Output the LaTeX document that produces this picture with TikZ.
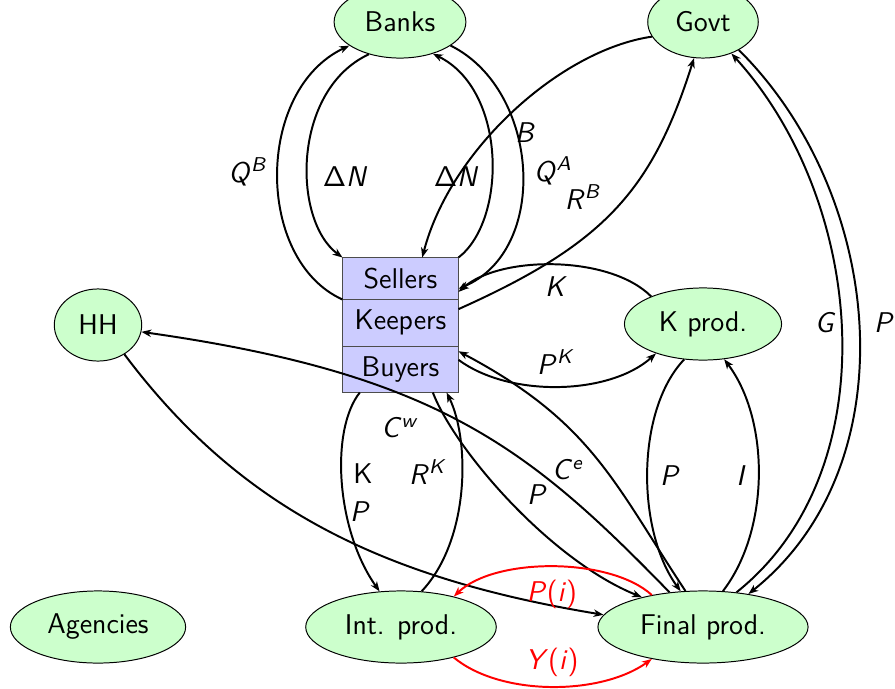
\documentclass[tikz,border=0pt]{standalone}
\usetikzlibrary{shapes.geometric,arrows.meta}
\renewcommand{\familydefault}{\sfdefault}
% variable names in slanted sans, as in the slides
\newcommand{\vv}[1]{\textsl{#1}}
\newcommand{\vs}[2]{\textsl{#1}\textsuperscript{\textsl{#2}}}
\begin{document}
\begin{tikzpicture}[
  x=0.0142857cm, y=-0.0142857cm,
  font=\fontsize{11.6pt}{14pt}\selectfont,
  agent/.style={ellipse, draw=black, line width=0.4pt, fill=green!20,
    inner xsep=4.6pt, inner ysep=0pt, minimum height=1.03cm},
  part/.style={rectangle, draw=black!70, line width=0.4pt, fill=blue!20,
    inner sep=0pt, minimum width=1.643cm},
  flow/.style={line width=0.8pt, -{Stealth[length=4pt,width=3pt,inset=1.2pt]}},
  redflow/.style={flow, red},
  lbl/.style={inner sep=0pt},
  redlbl/.style={inner sep=0pt, text=red}
]
\useasboundingbox (0,0) rectangle (895,688);

% sectors
\node[agent] (banks)    at (400,22)  {Banks};
\node[agent] (govt)     at (703,22)  {Govt};
\node[agent] (hh)       at (98,325)  {HH};
\node[agent] (kprod)    at (703,324) {K prod.};
\node[agent] (agencies) at (98,627)  {Agencies};
\node[agent] (int)      at (401,627) {Int. prod.};
\node[agent] (final)    at (703,627) {Final prod.};

% the market box
\node[part, minimum height=0.586cm] (sellers) at (400.5,278.5) {Sellers};
\node[part, minimum height=0.671cm] (keepers) at (400.5,322.5) {Keepers};
\node[part, minimum height=0.657cm] (buyers)  at (400.5,369)   {Buyers};

% banks and the market
\draw[flow] (sellers.south west) .. controls (255,260) and (255,90) .. (banks.205);
\draw[flow] (banks.226) .. controls (292,90) and (292,220) .. (sellers.north west);
\draw[flow] (sellers.north east) .. controls (507,220) and (507,90) .. (banks.316);
\draw[flow] (banks.335) .. controls (540,90) and (550,250) .. (sellers.-10);

% government and the market
\draw[flow] (govt.196) .. controls (560,50) and (450,150) .. (sellers.44);
\draw[flow] (keepers.13) .. controls (604,244) and (652,191) .. (govt.256);

% capital producers and the market
\draw[flow] (kprod.152) .. controls (610,255) and (500,255) .. (sellers.-13);
\draw[flow] (buyers.9) .. controls (510,398) and (610,395) .. (kprod.212);

% intermediate producers and the market
\draw[flow] (buyers.210) .. controls (330,430) and (336,530) .. (int.121);
\draw[flow] (int.60) .. controls (470,540) and (470,440) .. (buyers.-27);

% final producers
\draw[flow] (buyers.-36) .. controls (455,450) and (550,560) .. (final.154);
\draw[flow] (final.116) .. controls (614,483) and (592,422) .. (buyers.17);
\draw[flow] (final.134) .. controls (530,449) and (439,374) .. (hh.-9);
\draw[flow] (hh.312) .. controls (239,507) and (380,578) .. (final.173);
\draw[flow] (kprod.242) .. controls (636,410) and (636,530) .. (final.122);
\draw[flow] (final.61) .. controls (770,530) and (770,420) .. (kprod.-59);
\draw[flow] (final.46) .. controls (890,470) and (865,200) .. (govt.-48);
\draw[flow] (govt.-38) .. controls (885,195) and (910,465) .. (final.36);

% intermediate goods exchange
\draw[redflow] (final.148) .. controls (610,557) and (495,557) .. (int.30);
\draw[redflow] (int.-30) .. controls (500,696) and (600,696) .. (final.-148);

% flow labels
\node[lbl] (lQB) at (248,172) {\vs{Q}{B}};
\node[lbl] (lDN1) at (345,177) {Δ\vv{N}};
\node[lbl] (lDN2) at (456,177) {Δ\vv{N}};
\node[lbl] (lB) at (525,133) {\vv{B}};
\node[lbl] (lQA) at (553,171) {\vs{Q}{A}};
\node[lbl] (lRB) at (583,197) {\vs{R}{B}};
\node[lbl] (lK) at (556,287) {\vv{K}};
\node[lbl] (lPK) at (556,362) {\vs{P}{K}};
\node[lbl] (lCw) at (400,428) {\vs{C}{w}};
\node[lbl] (lKu) at (363,474) {K};
\node[lbl] (lPl) at (360,512) {\vv{P}};
\node[lbl] (lRK) at (428,472) {\vs{R}{K}};
\node[lbl] (lCe) at (568,470) {\vs{C}{e}};
\node[lbl] (lPm) at (537,495) {\vv{P}};
\node[lbl] (lPk) at (670,476) {\vv{P}};
\node[lbl] (lI) at (741,476) {\vv{I}};
\node[lbl] (lG) at (825,323) {\vv{G}};
\node[lbl] (lPg) at (884,323) {\vv{P}};
\node[redlbl] (lPi) at (552,594) {\vv{P}(\vv{i})};
\node[redlbl] (lYi) at (552,662) {\vv{Y}(\vv{i})};
\end{tikzpicture}
\end{document}
